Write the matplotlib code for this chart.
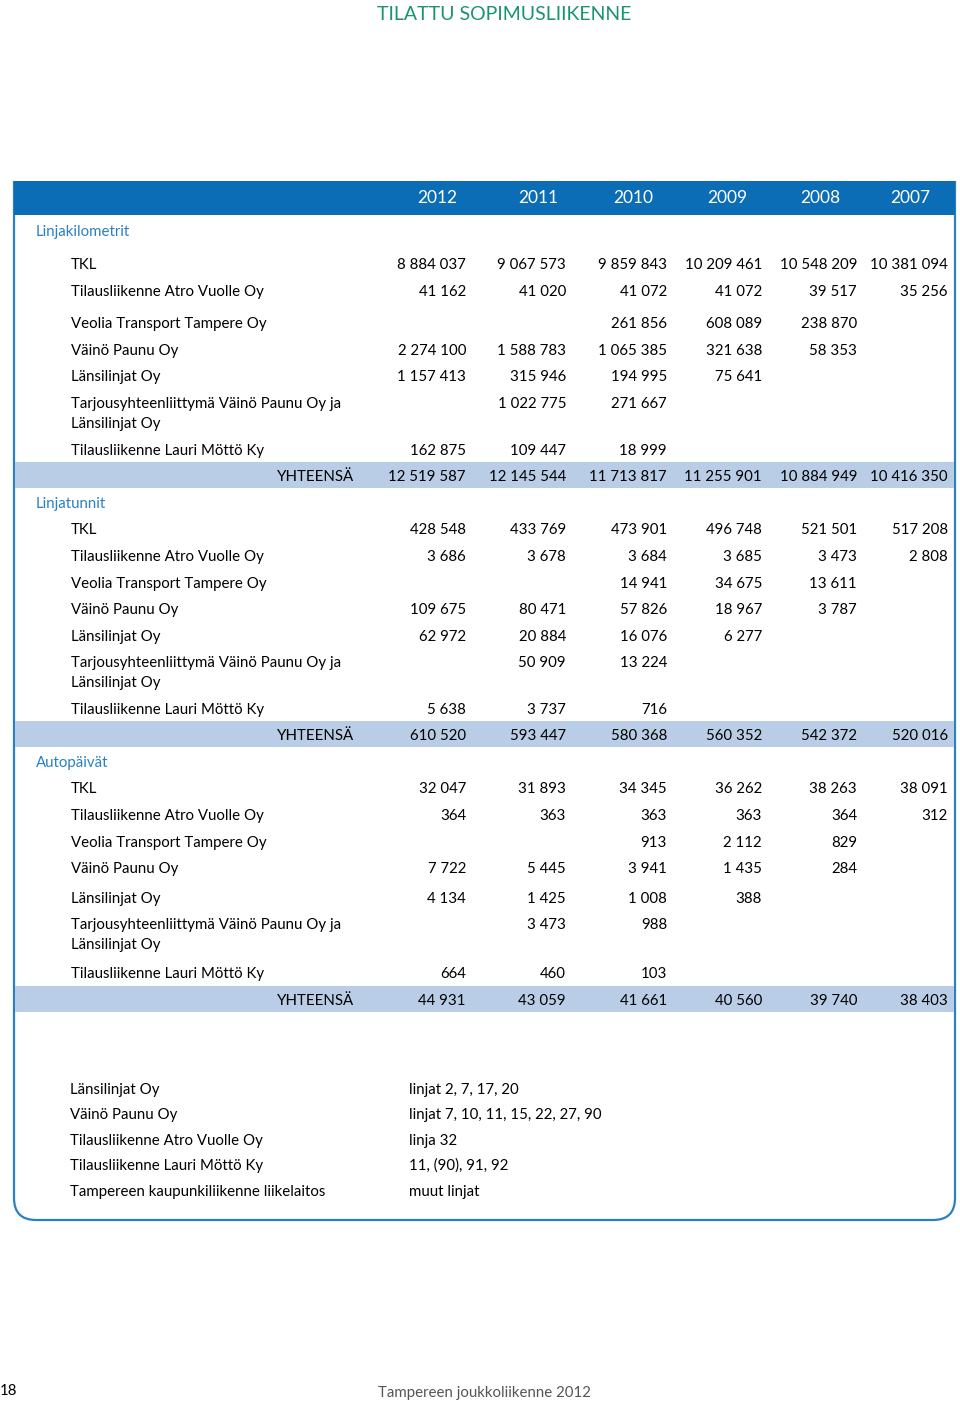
import matplotlib
matplotlib.use("Agg")
import matplotlib.pyplot as plt
import matplotlib.patches as mp
from matplotlib.path import Path as MplPath

plt.rcParams['font.family'] = ['Lato', 'DejaVu Sans']

# --- data ---
years = ["2012", "2011", "2010", "2009", "2008", "2007"]
companies = [
    "TKL",
    "Tilausliikenne Atro Vuolle Oy",
    "Veolia Transport Tampere Oy",
    "Väinö Paunu Oy",
    "Länsilinjat Oy",
    "Tarjousyhteenliittymä Väinö Paunu Oy ja\nLänsilinjat Oy",
    "Tilausliikenne Lauri Möttö Ky",
]
sections = ["Linjakilometrit", "Linjatunnit", "Autopäivät"]

km_values = [
    ["8 884 037", "9 067 573", "9 859 843", "10 209 461", "10 548 209", "10 381 094"],
    ["41 162", "41 020", "41 072", "41 072", "39 517", "35 256"],
    ["", "", "261 856", "608 089", "238 870", ""],
    ["2 274 100", "1 588 783", "1 065 385", "321 638", "58 353", ""],
    ["1 157 413", "315 946", "194 995", "75 641", "", ""],
    ["", "1 022 775", "271 667", "", "", ""],
    ["162 875", "109 447", "18 999", "", "", ""],
]
km_total = ["12 519 587", "12 145 544", "11 713 817", "11 255 901", "10 884 949", "10 416 350"]

hours_values = [
    ["428 548", "433 769", "473 901", "496 748", "521 501", "517 208"],
    ["3 686", "3 678", "3 684", "3 685", "3 473", "2 808"],
    ["", "", "14 941", "34 675", "13 611", ""],
    ["109 675", "80 471", "57 826", "18 967", "3 787", ""],
    ["62 972", "20 884", "16 076", "6 277", "", ""],
    ["", "50 909", "13 224", "", "", ""],
    ["5 638", "3 737", "716", "", "", ""],
]
hours_total = ["610 520", "593 447", "580 368", "560 352", "542 372", "520 016"]

days_values = [
    ["32 047", "31 893", "34 345", "36 262", "38 263", "38 091"],
    ["364", "363", "363", "363", "364", "312"],
    ["", "", "913", "2 112", "829", ""],
    ["7 722", "5 445", "3 941", "1 435", "284", ""],
    ["4 134", "1 425", "1 008", "388", "", ""],
    ["", "3 473", "988", "", "", ""],
    ["664", "460", "103", "", "", ""],
]
days_total = ["44 931", "43 059", "41 661", "40 560", "39 740", "38 403"]

operators = ["Länsilinjat Oy", "Väinö Paunu Oy", "Tilausliikenne Atro Vuolle Oy",
             "Tilausliikenne Lauri Möttö Ky", "Tampereen kaupunkiliikenne liikelaitos"]
lines = ["linjat 2, 7, 17, 20", "linjat 7, 10, 11, 15, 22, 27, 90", "linja 32",
         "11, (90), 91, 92", "muut linjat"]

# --- layout (pixel coordinates) ---
BLUE = "#0a6db5"
SEC_BLUE = "#2a80c2"
BAND = "#b9cde6"
GREEN = "#1a9470"
FS = 10.8
DY = 2  # text centre offset

col_right = [466, 566, 667, 762, 857, 948]
col_head = [437, 538, 633, 727, 820, 910]

section_y = [230, 502, 761]
row_y = [
    [263, 290, 322, 349, 375, 402, 449],
    [528, 555, 582, 608, 635, 661, 708],
    [787, 814, 841, 867, 897, 923, 972],
]
total_y = [475, 734, 999]
list_y = [1088, 1113, 1139, 1164, 1190]

fig = plt.figure(figsize=(9.6, 14.03), dpi=100)
ax = fig.add_axes([0, 0, 1, 1])
ax.set_xlim(0, 960)
ax.set_ylim(1403, 0)
ax.axis("off")


def txt(x, y, s, **kw):
    kw.setdefault("fontsize", FS)
    kw.setdefault("va", "center")
    ax.text(x, y + DY, s, **kw)


# title
txt(504, 13, "TILATTU SOPIMUSLIIKENNE", color=GREEN, fontsize=14, ha="center")

# frame with rounded bottom corners
L, R, T, B, r = 14, 955, 181, 1220, 22
verts = [(L, T), (L, B - r), (L, B), (L + r, B), (R - r, B), (R, B), (R, B - r), (R, T)]
codes = [MplPath.MOVETO, MplPath.LINETO, MplPath.CURVE3, MplPath.CURVE3,
         MplPath.LINETO, MplPath.CURVE3, MplPath.CURVE3, MplPath.LINETO]
ax.add_patch(mp.PathPatch(MplPath(verts, codes), facecolor="none",
                          edgecolor=SEC_BLUE, linewidth=1.6))

# header band
ax.add_patch(mp.Rectangle((L, T), R - L, 34, facecolor=BLUE, edgecolor="none"))
for x, yr in zip(col_head, years):
    txt(x, 196, yr, color="white", fontsize=12.5, ha="center")

blocks = [(km_values, km_total), (hours_values, hours_total), (days_values, days_total)]
for s, (name, (vals, tot)) in enumerate(zip(sections, blocks)):
    txt(36, section_y[s], name, color=SEC_BLUE, ha="left")
    for i, comp in enumerate(companies):
        y = row_y[s][i]
        for k, part in enumerate(comp.split("\n")):
            txt(71, y + 20 * k, part, ha="left")
        for x, v in zip(col_right, vals[i]):
            if v:
                txt(x, y, v, ha="right")
    ty = total_y[s]
    ax.add_patch(mp.Rectangle((L + 1, ty - 13), R - L - 2, 26, facecolor=BAND, edgecolor="none"))
    txt(354, ty, "YHTEENSÄ", ha="right")
    for x, v in zip(col_right, tot):
        txt(x, ty, v, ha="right")

# operator / lines list
for y, op, ln in zip(list_y, operators, lines):
    txt(70, y, op, ha="left")
    txt(409, y, ln, ha="left")

# footer
txt(0, 1389, "18", ha="left")
txt(484, 1391, "Tampereen joukkoliikenne 2012", color="#555555", ha="center")

fig.savefig("out.png", dpi=100, facecolor="white")
